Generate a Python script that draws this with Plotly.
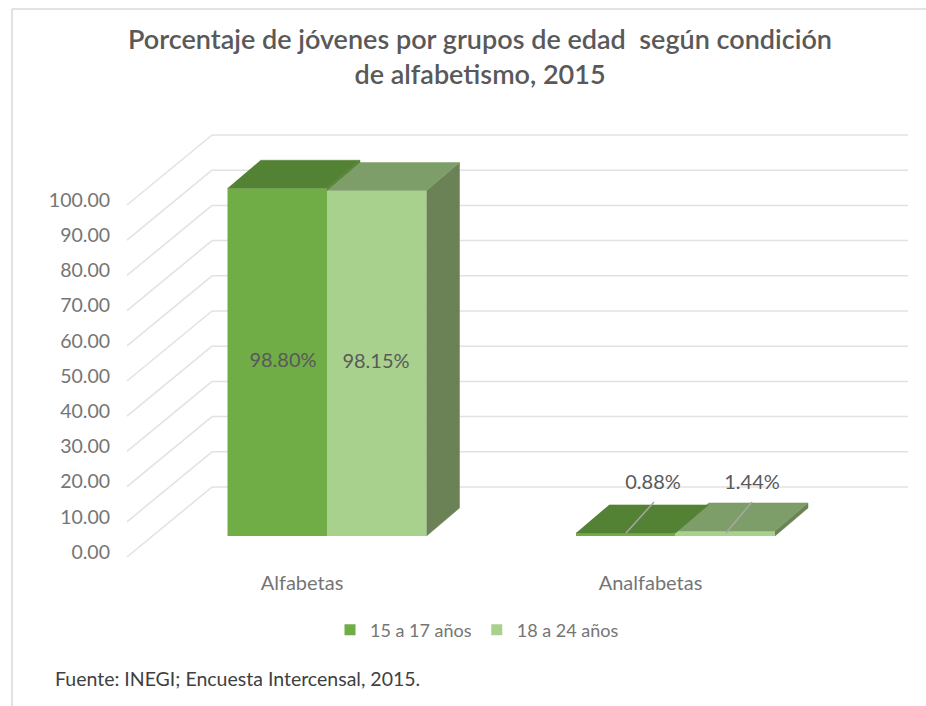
import plotly.graph_objects as go

# ---- data ----
categories = ["Alfabetas", "Analfabetas"]
series_names = ["15 a 17 años", "18 a 24 años"]
values_15_17 = [98.80, 0.88]
values_18_24 = [98.15, 1.44]
y_ticks = [0, 10, 20, 30, 40, 50, 60, 70, 80, 90, 100]
y_tick_labels = ["0.00", "10.00", "20.00", "30.00", "40.00", "50.00", "60.00", "70.00", "80.00", "90.00", "100.00"]
title_text = "Porcentaje de jóvenes por grupos de edad  según condición<br>de alfabetismo, 2015"
source_text = "Fuente: INEGI; Encuesta Intercensal, 2015."

# ---- colours ----
FRONT = ["#70AD47", "#A9D18E"]
TOP = ["#548235", "#7E9E69"]
SIDE = "#6B8257"
GRID = "#E2E2E2"
FONT = "Lato"

# ---- layout geometry (pixels of the page) ----
W, H = 926, 706
L, R, T, B = 118, 918, 110, 562
PX_Y = 3.52          # px per value unit
PX_X = 348.5         # px per category step
Y0_PX = 536          # where value 0 sits on the bar plane
X0_PX = 327          # where category 0 sits
x_range = [(L - X0_PX) / PX_X, (R - X0_PX) / PX_X]
y_range = [(Y0_PX - B) / PX_Y, (Y0_PX - T) / PX_Y]

def px(xp):
    return (xp - L) / (R - L)

def py(yp):
    return (B - yp) / (B - T)

# 3D depth in data units
BAR_W = 99.5 / PX_X
DX = 33 / PX_X
DY = 28 / PX_Y
WALL_X0 = (212 - X0_PX) / PX_X
WALL_X1 = (908 - X0_PX) / PX_X
WALL_Y0 = (Y0_PX - 487) / PX_Y
FLOOR_X0 = (127 - X0_PX) / PX_X
FLOOR_Y0 = (Y0_PX - 557) / PX_Y

fig = go.Figure()

# front faces
for name, vals, col in zip(series_names, [values_15_17, values_18_24], FRONT):
    fig.add_trace(go.Bar(x=[0, 1], y=vals, name=name, marker=dict(color=col, line_width=0),
                         width=BAR_W, showlegend=False, hoverinfo="skip"))

# faces of depth: second series first, so the first overlaps it
def poly(xs, ys, col):
    fig.add_trace(go.Scatter(x=xs, y=ys, mode="lines", fill="toself", fillcolor=col,
                             line=dict(color=col, width=0.5), showlegend=False, hoverinfo="skip"))

for i in range(len(categories)):
    v2 = values_18_24[i]
    v1 = values_15_17[i]
    xl, xr = i, i + BAR_W
    poly([xr, xr + DX, xr + DX, xr], [0, DY, v2 + DY, v2], SIDE)
    poly([xl, xr, xr + DX, xl + DX], [v2, v2, v2 + DY, v2 + DY], TOP[1])
    xl, xr = i - BAR_W, i
    if v1 > v2:
        # the part of the first bar's side that stands above its neighbour
        poly([xr, xr + DX, xr + DX, xr], [v2, v2 + DY, v1 + DY, v1], TOP[0])
    poly([xl, xr, xr + DX, xl + DX], [v1, v1, v1 + DY, v1 + DY], TOP[0])

# data labels
label_x = [(283 - X0_PX) / PX_X, (376 - X0_PX) / PX_X, (653 - X0_PX) / PX_X, (752 - X0_PX) / PX_X]
label_y = [values_15_17[0] / 2, values_18_24[0] / 2, (Y0_PX - 484) / PX_Y, (Y0_PX - 484) / PX_Y]
label_text = [f"{values_15_17[0]:.2f}%", f"{values_18_24[0]:.2f}%",
              f"{values_15_17[1]:.2f}%", f"{values_18_24[1]:.2f}%"]

# leader lines of the two small bars
for j, (xa, xb) in enumerate([((626 - X0_PX) / PX_X, (654 - X0_PX) / PX_X),
                              ((726 - X0_PX) / PX_X, (752 - X0_PX) / PX_X)]):
    fig.add_trace(go.Scatter(x=[xa, xb], y=[(Y0_PX - 533) / PX_Y, (Y0_PX - 502) / PX_Y], mode="lines",
                             line=dict(color="#A6A6A6", width=1.5), showlegend=False, hoverinfo="skip"))

fig.add_trace(go.Scatter(x=label_x, y=label_y, mode="text", text=label_text, textposition="middle center",
                         textfont=dict(family=FONT, size=20, color="#595959"), showlegend=False, hoverinfo="skip"))

# legend entries
for name, col in zip(series_names, FRONT):
    fig.add_trace(go.Scatter(x=[None], y=[None], mode="markers", name=name,
                             marker=dict(symbol="square", size=11, color=col)))

shapes = []
for t in y_ticks:
    # back wall line, then the oblique side-wall line to the front
    shapes.append(dict(type="line", xref="x", yref="y", layer="below",
                       x0=WALL_X0, x1=WALL_X1, y0=t + WALL_Y0, y1=t + WALL_Y0,
                       line=dict(color=GRID, width=1.5)))
    shapes.append(dict(type="line", xref="x", yref="y", layer="below",
                       x0=FLOOR_X0, x1=WALL_X0, y0=t + FLOOR_Y0, y1=t + WALL_Y0,
                       line=dict(color=GRID, width=1.5)))
# picture frame: left and top edges
shapes.append(dict(type="line", xref="paper", yref="paper", x0=px(12), x1=px(12), y0=py(9), y1=py(706),
                   line=dict(color="#D9D9D9", width=1.5)))
shapes.append(dict(type="line", xref="paper", yref="paper", x0=px(12), x1=px(926), y0=py(9), y1=py(9),
                   line=dict(color="#D9D9D9", width=1.5)))

fig.update_layout(
    width=W, height=H,
    margin=dict(l=L, r=W - R, t=T, b=H - B, pad=0),
    paper_bgcolor="white", plot_bgcolor="rgba(0,0,0,0)",
    barmode="group", bargap=1 - 2 * BAR_W, bargroupgap=0,
    title=dict(text=title_text, x=480 / W, xanchor="center", y=1 - 49 / H, yanchor="top",
               font=dict(family=FONT, size=27, color="#595959", weight=600)),
    xaxis=dict(range=x_range, tickmode="array", tickvals=[0, 1], ticktext=categories, showgrid=False,
               zeroline=False, showline=False, ticks="", ticklabelshift=-25, ticklabelstandoff=7,
               tickfont=dict(family=FONT, size=20, color="#757575")),
    yaxis=dict(range=y_range, tickmode="array", tickvals=y_ticks, ticktext=y_tick_labels, showgrid=False,
               zeroline=False, showline=False, ticks="", ticklabelshift=16, ticklabelstandoff=7,
               tickfont=dict(family=FONT, size=19.5, color="#757575")),
    legend=dict(orientation="h", x=px(477), y=py(630), xanchor="center", yanchor="middle",
                font=dict(family=FONT, size=18, color="#757575"), itemclick=False, itemdoubleclick=False),
    shapes=shapes,
    annotations=[dict(text=source_text, xref="paper", yref="paper", x=px(53), y=py(678), xanchor="left",
                      yanchor="middle", showarrow=False, font=dict(family=FONT, size=19.5, color="#404040"))],
)

fig.write_html("out.html", config=dict(displayModeBar=False),
               post_script="document.body.style.margin='0';document.body.style.overflow='hidden';")
